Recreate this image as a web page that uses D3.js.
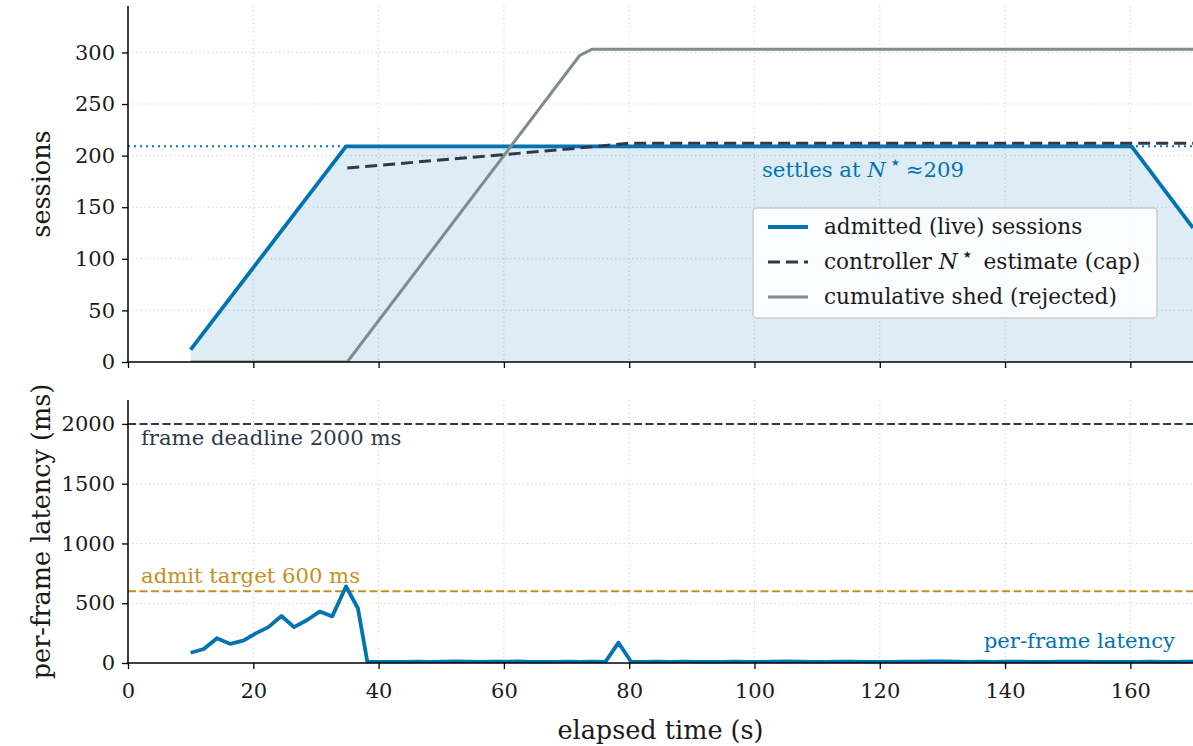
<!DOCTYPE html>
<html>
<head>
<meta charset="utf-8">
<script src="https://cdn.jsdelivr.net/npm/d3@7"></script>
<style>
  body { margin: 0; background: #fff; }
  svg { display: block; font-family: "DejaVu Serif", serif; }
</style>
</head>
<body>
<svg id="chart" width="1193" height="746"></svg>
<script>
// admitted (live) sessions: [time s, sessions]
const admitted = [[10, 12], [34.8, 209], [160.2, 209], [170, 130]];
// controller N* estimate (cap)
const capEstimate = [[35, 188], [60, 201], [75, 209], [80, 212], [170, 212]];
// cumulative shed (rejected)
const shed = [[10, 0], [35, 0], [72.1, 297], [74, 303], [170, 303]];
const settled = 209;

// per-frame latency: [time s, ms]
const latency = [
  [10.0, 86], [12.1, 117], [14.2, 207], [16.3, 160], [18.4, 187], [20.4, 248],
  [22.4, 300], [24.5, 393], [26.5, 300], [28.6, 360], [30.6, 430], [32.6, 390],
  [34.8, 640], [36.7, 458], [38.2, 12], [40.2, 10], [42.2, 9], [44.2, 10],
  [46.2, 11], [48.2, 10], [50.2, 12], [52.2, 13], [54.2, 11], [56.2, 10],
  [58.2, 12], [60.2, 11], [62.2, 13], [64.2, 10], [66.2, 9], [68.2, 10],
  [70.2, 11], [72.2, 10], [74.2, 11], [76.2, 10], [78.3, 170], [80.3, 10],
  [82.4, 9], [84.5, 11], [86.5, 10], [88.6, 12], [90.7, 10], [92.8, 9],
  [94.8, 10], [96.9, 11], [99.0, 10], [101.0, 10], [103.1, 12], [105.2, 13],
  [107.3, 11], [109.3, 10], [111.4, 10], [113.5, 12], [115.5, 11], [117.6, 10],
  [119.7, 9], [121.8, 10], [123.8, 11], [125.9, 12], [128.0, 14], [130.0, 13],
  [132.1, 12], [134.2, 10], [136.3, 11], [138.3, 10], [140.4, 12], [142.5, 11],
  [144.5, 10], [146.6, 10], [148.7, 11], [150.8, 12], [152.8, 11], [154.9, 10],
  [157.0, 9], [159.0, 10], [161.1, 10], [163.2, 11], [165.3, 10], [167.3, 10],
  [169.4, 11], [171.4, 10]
];
const deadline = 2000;
const admitTarget = 600;

const xTicks = [0, 20, 40, 60, 80, 100, 120, 140, 160];
const sessionTicks = [0, 50, 100, 150, 200, 250, 300];
const latencyTicks = [0, 500, 1000, 1500, 2000];

const blue = "#0173b2", dark = "#2d3a4b", gray = "#7f8c8d", gold = "#c4901c";
const gridColor = "#cfcfcf";
const tickFont = "21px", noteFont = "21.2px", legendFont = "21.6px", labelFont = "25.5px";

const svg = d3.select("#chart");
const left = 128, right = 1193;

let x = d3.scaleLinear().domain([0, 170]).range([left, right]);
let yTop = d3.scaleLinear().domain([0, 345]).range([362, 6]);
let yBot = d3.scaleLinear().domain([0, 2200]).range([663, 400]);

function clip(id, y0, y1) {
  svg.append("clipPath").attr("id", id)
    .append("rect").attr("x", left).attr("y", y0)
    .attr("width", right - left).attr("height", y1 - y0);
}
clip("clipTop", 6, 362);
clip("clipBot", 400, 663);

function grid(yScale, ticks, y0, y1) {
  let g = svg.append("g");
  g.selectAll("line.gx").data(xTicks.slice(1)).enter().append("line")
    .attr("x1", d => x(d)).attr("x2", d => x(d))
    .attr("y1", y0).attr("y2", y1);
  g.selectAll("line.gy").data(ticks.slice(1)).enter().append("line")
    .attr("x1", left).attr("x2", right)
    .attr("y1", d => yScale(d)).attr("y2", d => yScale(d));
  g.selectAll("line")
    .attr("stroke", gridColor).attr("stroke-width", 1.1)
    .attr("stroke-dasharray", "1.2,3");
}

function axes(yScale, ticks, y0, y1, showX) {
  let gx = svg.append("g").attr("transform", `translate(0, ${y1})`)
    .call(d3.axisBottom(x).tickValues(xTicks).tickSize(6).tickPadding(14)
      .tickFormat(showX ? d3.format("d") : ""));
  let gy = svg.append("g").attr("transform", `translate(${left}, 0)`)
    .call(d3.axisLeft(yScale).tickValues(ticks).tickSize(6).tickPadding(7)
      .tickFormat(d3.format("d")));
  [gx, gy].forEach(g => {
    g.select(".domain").remove();
    g.selectAll(".tick line").attr("stroke", "#000").attr("stroke-width", 1.3);
    g.selectAll(".tick text").attr("fill", "#1a1a1a")
      .style("font-size", tickFont).style("font-family", "DejaVu Serif");
  });
  svg.append("line").attr("x1", left).attr("x2", left)
    .attr("y1", y0).attr("y2", y1 + 0.75)
    .attr("stroke", "#000").attr("stroke-width", 1.5);
  svg.append("line").attr("x1", left - 0.75).attr("x2", right)
    .attr("y1", y1).attr("y2", y1)
    .attr("stroke", "#000").attr("stroke-width", 1.5);
}

// N with a superscript star, as in the source's math text
function addNStar(text) {
  text.append("tspan").text("N").style("font-style", "italic");
  text.append("tspan").text("\u22c6").attr("dy", -8).attr("dx", 3)
    .style("font-size", "20px");
}

// ---- top panel: sessions ----
grid(yTop, sessionTicks, 6, 362);
let gTop = svg.append("g").attr("clip-path", "url(#clipTop)");

gTop.append("path").datum(admitted)
  .attr("fill", blue).attr("fill-opacity", 0.135)
  .attr("d", d3.area().x(d => x(d[0])).y0(yTop(0)).y1(d => yTop(d[1])));

gTop.append("line")
  .attr("x1", left).attr("x2", right)
  .attr("y1", yTop(settled)).attr("y2", yTop(settled))
  .attr("stroke", blue).attr("stroke-width", 2)
  .attr("stroke-dasharray", "2,4");

let lineTop = d3.line().x(d => x(d[0])).y(d => yTop(d[1]));
gTop.append("path").datum(admitted)
  .attr("fill", "none").attr("stroke", blue).attr("stroke-width", 3.8)
  .attr("stroke-linejoin", "round").attr("d", lineTop);
gTop.append("path").datum(shed)
  .attr("fill", "none").attr("stroke", gray).attr("stroke-width", 3)
  .attr("stroke-linejoin", "round").attr("d", lineTop);
gTop.append("path").datum(capEstimate)
  .attr("fill", "none").attr("stroke", dark).attr("stroke-width", 3)
  .attr("stroke-dasharray", "12,6").attr("d", lineTop);

let settleText = svg.append("text")
  .attr("x", 762).attr("y", yTop(settled) + 31)
  .attr("fill", blue).style("font-size", noteFont);
settleText.append("tspan").text("settles at ");
addNStar(settleText);
settleText.append("tspan").text("\u2248" + settled).attr("dy", 8).attr("dx", 4);

axes(yTop, sessionTicks, 6, 362, false);

svg.append("text")
  .attr("transform", `translate(50, ${(6 + 362) / 2}) rotate(-90)`)
  .attr("text-anchor", "middle").attr("fill", "#1a1a1a")
  .style("font-size", labelFont).text("sessions");

// legend
let legend = svg.append("g").attr("transform", "translate(753, 208)");
legend.append("rect").attr("width", 404).attr("height", 110).attr("rx", 4)
  .attr("fill", "#fff").attr("fill-opacity", 0.85)
  .attr("stroke", "#cccccc").attr("stroke-width", 1.5);
const legendItems = [
  { label: ["admitted (live) sessions"], color: blue, width: 3.8, dash: null },
  { label: ["controller ", " estimate (cap)"], color: dark, width: 3, dash: "12,6" },
  { label: ["cumulative shed (rejected)"], color: gray, width: 3, dash: null }
];
legendItems.forEach((item, i) => {
  let cy = 19 + i * 35;
  legend.append("line").attr("x1", 15).attr("x2", 55)
    .attr("y1", cy).attr("y2", cy)
    .attr("stroke", item.color).attr("stroke-width", item.width)
    .attr("stroke-dasharray", item.dash);
  let t = legend.append("text").attr("x", 71).attr("y", cy + 7)
    .attr("fill", "#1a1a1a").style("font-size", legendFont);
  t.append("tspan").text(item.label[0]);
  if (item.label.length > 1) {
    addNStar(t);
    t.append("tspan").text(item.label[1]).attr("dy", 8).attr("dx", 3);
  }
});

// ---- bottom panel: latency ----
grid(yBot, latencyTicks, 400, 663);
let gBot = svg.append("g").attr("clip-path", "url(#clipBot)");

gBot.append("line").attr("x1", left).attr("x2", right)
  .attr("y1", yBot(deadline)).attr("y2", yBot(deadline))
  .attr("stroke", dark).attr("stroke-width", 2).attr("stroke-dasharray", "8,3.5");
gBot.append("line").attr("x1", left).attr("x2", right)
  .attr("y1", yBot(admitTarget)).attr("y2", yBot(admitTarget))
  .attr("stroke", gold).attr("stroke-width", 2).attr("stroke-dasharray", "8,3.5");

gBot.append("path").datum(latency)
  .attr("fill", "none").attr("stroke", blue).attr("stroke-width", 3.8)
  .attr("stroke-linejoin", "round")
  .attr("d", d3.line().x(d => x(d[0])).y(d => yBot(d[1])));

svg.append("text").attr("x", 141).attr("y", yBot(deadline) + 21)
  .attr("fill", dark).style("font-size", noteFont).text("frame deadline 2000 ms");
svg.append("text").attr("x", 141).attr("y", yBot(admitTarget) - 8)
  .attr("fill", gold).style("font-size", noteFont).text("admit target 600 ms");
svg.append("text").attr("x", 1175).attr("y", 648).attr("text-anchor", "end")
  .attr("fill", blue).style("font-size", noteFont).text("per-frame latency");

axes(yBot, latencyTicks, 400, 663, true);

svg.append("text")
  .attr("transform", `translate(50, ${(400 + 663) / 2}) rotate(-90)`)
  .attr("text-anchor", "middle").attr("fill", "#1a1a1a")
  .style("font-size", labelFont).text("per-frame latency (ms)");
svg.append("text")
  .attr("x", (left + right) / 2).attr("y", 739)
  .attr("text-anchor", "middle").attr("fill", "#1a1a1a")
  .style("font-size", labelFont).text("elapsed time (s)");
</script>
</body>
</html>
